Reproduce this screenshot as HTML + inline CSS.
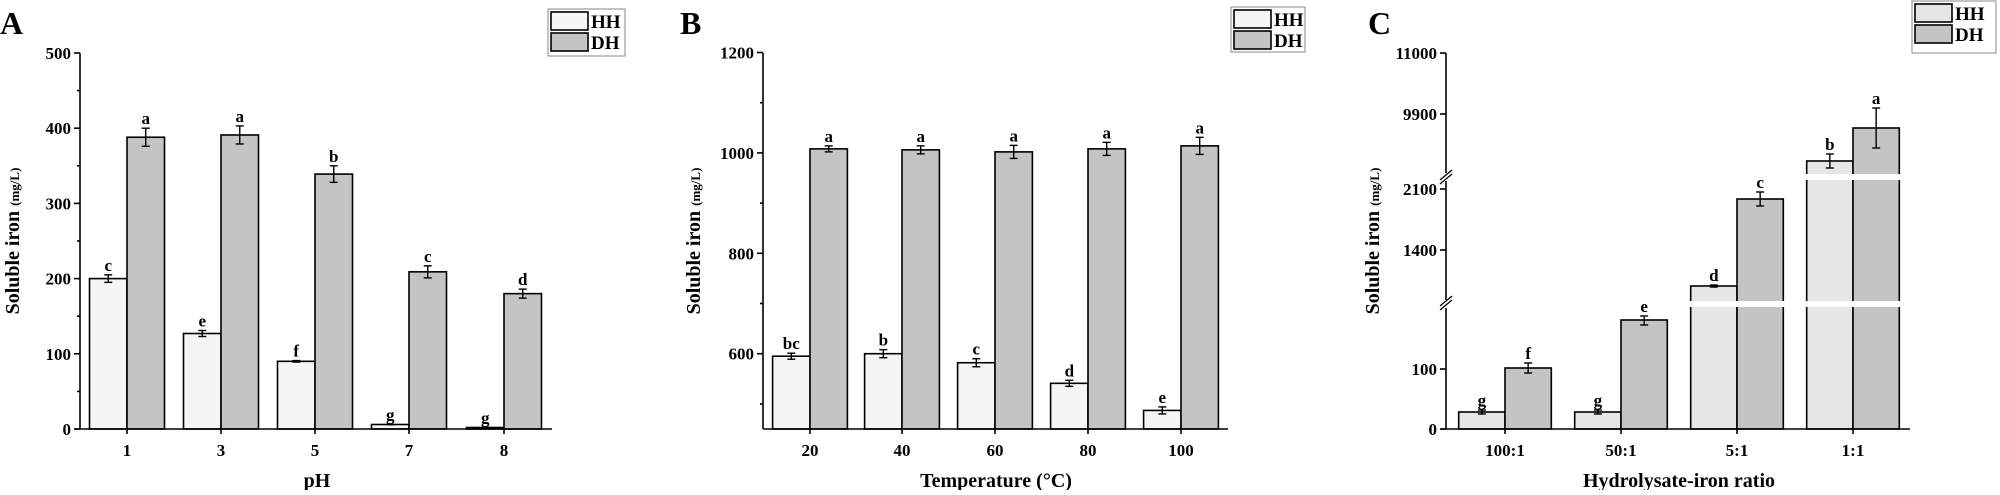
<!DOCTYPE html>
<html><head><meta charset="utf-8"><style>
body{margin:0;background:#fff;width:2000px;height:490px;overflow:hidden}
svg text{font-family:"Liberation Serif",serif;font-weight:bold;fill:#000}
</style></head><body>
<svg id="s" width="2000" height="490" xmlns="http://www.w3.org/2000/svg"></svg>
<script>
var s='';
function L(x1,y1,x2,y2,w){s+=`<line x1="${x1}" y1="${y1}" x2="${x2}" y2="${y2}" stroke="#000" stroke-width="${w||1.6}"/>`;}
function R(x,y,w,h,f){s+=`<rect x="${x}" y="${y}" width="${w}" height="${h}" fill="${f}" stroke="#000" stroke-width="1.6"/>`;}
function T(x,y,t,sz,a,extra){s+=`<text x="${x}" y="${y}" font-size="${sz}" text-anchor="${a||'middle'}" ${extra||''}>${t}</text>`;}
function E(x,top,bot){L(x,top,x,bot,1.4);L(x-4,top,x+4,top,1.4);L(x-4,bot,x+4,bot,1.4);}
function legend(x,y,w,h,hh){s+=`<rect x="${x}" y="${y}" width="${w}" height="${h}" fill="#fff" stroke="#888" stroke-width="1"/>`;
R(x+3,y+3,37,18,hh);R(x+3,y+24,37,18,'#c4c4c4');T(x+43,y+19,'HH',19,'start');T(x+43,y+40,'DH',19,'start');}
function ylab(x,y){s+=`<text transform="translate(${x},${y}) rotate(-90)" font-size="20" text-anchor="middle">Soluble iron <tspan font-size="13">(mg/L)</tspan></text>`;}
// Panel A
(function(){var ax=80,bot=429,f=v=>bot-v*0.752,c=[127,221,315,409,504],bw=37.5,hh=[200,127,90,6,2],dh=[388,391,339,209,180],he=[5,4,1,0,0],de=[12,12,11,8,6],lh=['c','e','f','g','g'],ld=['a','a','b','c','d'];
for(var i=0;i<5;i++){R(c[i]-bw,f(hh[i]),bw,bot-f(hh[i]),'#f5f5f5');R(c[i],f(dh[i]),bw,bot-f(dh[i]),'#c4c4c4');
E(c[i]-bw/2,f(hh[i]+he[i]),f(hh[i]-he[i]));E(c[i]+bw/2,f(dh[i]+de[i]),f(dh[i]-de[i]));
T(c[i]-bw/2,f(hh[i]+he[i])-4,lh[i],17);T(c[i]+bw/2,f(dh[i]+de[i])-4,ld[i],17);
L(c[i],bot,c[i],bot+5);T(c[i],456,[1,3,5,7,8][i],17);}
L(ax,53,ax,bot);L(ax-5,bot,552,bot);
for(var v=0;v<=500;v+=50){L(ax-(v%100?3:6),f(v),ax,f(v));if(v%100==0)T(ax-9,f(v)+6,v,17,'end');}
ylab(19,241);T(317,487,'pH',20);T(0,34,'A',32,'start');legend(548,9,77,47,'#f5f5f5');})();
// Panel B
(function(){var ax=763,bot=429,f=v=>bot-(v-450)*0.502,c=[810,902,995,1088,1181],bw=37.4,hh=[595,600,582,541,487],dh=[1008,1006,1002,1008,1014],he=[6,8,8,6,7],de=[6,8,13,13,17],lh=['bc','b','c','d','e'];
for(var i=0;i<5;i++){R(c[i]-bw,f(hh[i]),bw,bot-f(hh[i]),'#f5f5f5');R(c[i],f(dh[i]),bw,bot-f(dh[i]),'#c4c4c4');
E(c[i]-bw/2,f(hh[i]+he[i]),f(hh[i]-he[i]));E(c[i]+bw/2,f(dh[i]+de[i]),f(dh[i]-de[i]));
T(c[i]-bw/2,f(hh[i]+he[i])-4,lh[i],17);T(c[i]+bw/2,f(dh[i]+de[i])-4,'a',17);
L(c[i],bot,c[i],bot+5);T(c[i],456,[20,40,60,80,100][i],17);}
L(ax,53,ax,bot);L(ax,bot,1228,bot);
for(var v=500;v<=1200;v+=100){L(ax-(v%200?3:6),f(v),ax,f(v));if(v%200==0)T(ax-9,f(v)+6,v,17,'end');}
ylab(700,241);T(996,487,'Temperature (°C)',20);T(680,34,'B',32,'start');legend(1231,7,74,45,'#f5f5f5');})();
// Panel C
(function(){var ax=1446,bot=429,c=[1505,1621,1737,1853],bw=46.3,hh=[412,412,286,161],dh=[368,320,199,128],he=[[410,414],[410,414],[285,287],[154,168]],de=[[363,373],[316,325],[192,206],[108,148]],lh=['g','g','d','b'],ld=['f','e','c','a'];
for(var i=0;i<4;i++){R(c[i]-bw,hh[i],bw,bot-hh[i],'#e6e6e6');R(c[i],dh[i],bw,bot-dh[i],'#c4c4c4');
E(c[i]-bw/2,he[i][0],he[i][1]);E(c[i]+bw/2,de[i][0],de[i][1]);
T(c[i]-bw/2,he[i][0]-4,lh[i],17);T(c[i]+bw/2,de[i][0]-4,ld[i],17);
L(c[i],bot,c[i],bot+5);T(c[i],456,['100:1','50:1','5:1','1:1'][i],17);}
s+='<rect x="1685" y="174" width="225" height="6" fill="#fff"/><rect x="1685" y="301" width="225" height="6" fill="#fff"/>';
L(ax,53,ax,173);L(ax,181,ax,300);L(ax,308,ax,bot);L(ax-5,bot,1910,bot);
L(ax-6,180,ax+6,170,1.3);L(ax-6,184,ax+6,174,1.3);L(ax-6,306,ax+6,296,1.3);L(ax-6,310,ax+6,300,1.3);
[[11000,53],[9900,114],[2100,189],[1400,250],[100,369],[0,429]].forEach(function(t){L(ax-6,t[1],ax,t[1]);T(ax-9,t[1]+6,t[0],17,'end');});
ylab(1379,241);T(1679,487,'Hydrolysate-iron ratio',20);T(1368,34,'C',32,'start');legend(1912,1,84,52,'#e6e6e6');})();
document.getElementById('s').innerHTML=s;
</script>
</body></html>
